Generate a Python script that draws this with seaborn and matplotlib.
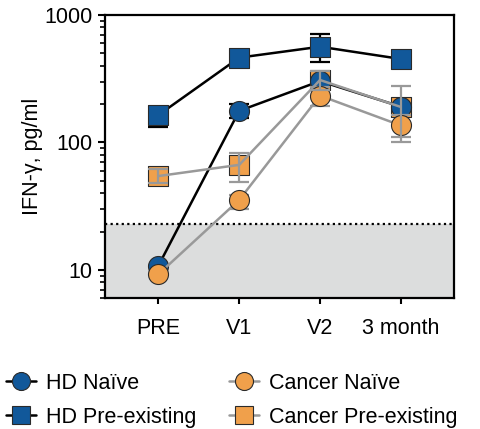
import numpy as np
import pandas as pd
import matplotlib
matplotlib.use("Agg")
import matplotlib.pyplot as plt
from matplotlib.lines import Line2D
import seaborn as sns

# ---- data ----
timepoints = ["PRE", "V1", "V2", "3 month"]

hd_naive = [10.8, 177, 303, 191]
hd_naive_lo = [10.8, 156, 303, 191]
hd_naive_hi = [10.8, 200, 303, 191]

hd_pre = [164, 463, 564, 452]
hd_pre_lo = [132, 463, 426, 452]
hd_pre_hi = [164, 463, 706, 452]

ca_naive = [9.25, 35.4, 233, 136]
ca_naive_lo = [9.25, 30, 194, 110]
ca_naive_hi = [9.25, 39, 270, 165]

ca_pre = [54.5, 66.7, 309, 190]
ca_pre_lo = [48, 49, 260, 101]
ca_pre_hi = [62, 82, 366, 277]

detection_limit = 23
y_ticks = [10, 100, 1000]
y_tick_labels = ["10", "100", "1000"]
y_label = "IFN-\u03b3, pg/ml"
legend_labels = ["HD Na\u00efve", "HD Pre-existing", "Cancer Na\u00efve", "Cancer Pre-existing"]

BLUE = "#11589a"
ORANGE = "#f0a04b"
GRAY = "#999999"
SHADE = "#dcdddd"
EDGE = "#2a2a2a"
FS = 15.5

sns.set_style("ticks")
plt.rcParams["font.family"] = ["Liberation Sans", "DejaVu Sans"]
plt.rcParams["text.color"] = "black"
plt.rcParams["axes.labelcolor"] = "black"
plt.rcParams["xtick.color"] = "black"
plt.rcParams["ytick.color"] = "black"
plt.rcParams["xtick.labelcolor"] = "black"
plt.rcParams["ytick.labelcolor"] = "black"

fig = plt.figure(figsize=(4.8, 4.29), dpi=100)
ax = fig.add_axes([0.219, 0.305, 0.727, 0.66])

x = np.arange(len(timepoints))
MS = 14.4
S = MS ** 2


def frame(vals):
    return pd.DataFrame({"t": x, "v": vals})


# shaded below detection limit
ax.axhspan(1, detection_limit, color=SHADE, zorder=0, lw=0)
ax.axhline(detection_limit, color="black", ls=(0, (1, 1.5)), lw=1.6, zorder=1)

# HD lines (black)
for vals in (hd_naive, hd_pre):
    sns.lineplot(data=frame(vals), x="t", y="v", color="black", lw=1.8,
                 sort=False, ax=ax, zorder=2.0, legend=False)

# HD error bars (behind markers)
for vals, lo, hi in ((hd_naive, hd_naive_lo, hd_naive_hi), (hd_pre, hd_pre_lo, hd_pre_hi)):
    v = np.array(vals); l = np.array(lo); h = np.array(hi)
    ax.errorbar(x, v, yerr=[v - l, h - v], fmt="none", ecolor="black",
                elinewidth=1.6, capsize=7.5, capthick=1.6, zorder=2.05)

# Cancer pre-existing squares
sns.scatterplot(data=frame(ca_pre), x="t", y="v", marker="s", s=S, color=ORANGE,
                edgecolor=EDGE, linewidth=0.8, ax=ax, zorder=2.1, legend=False)
# HD markers
sns.scatterplot(data=frame(hd_pre), x="t", y="v", marker="s", s=S, color=BLUE,
                edgecolor=EDGE, linewidth=0.8, ax=ax, zorder=2.2, legend=False)
sns.scatterplot(data=frame(hd_naive), x="t", y="v", marker="o", s=S, color=BLUE,
                edgecolor=EDGE, linewidth=0.8, ax=ax, zorder=2.3, legend=False)

# Cancer lines (gray)
for vals in (ca_naive, ca_pre):
    sns.lineplot(data=frame(vals), x="t", y="v", color=GRAY, lw=1.8,
                 sort=False, ax=ax, zorder=2.4, legend=False)

# Cancer naive error bars then circles
v = np.array(ca_naive); l = np.array(ca_naive_lo); h = np.array(ca_naive_hi)
ax.errorbar(x, v, yerr=[v - l, h - v], fmt="none", ecolor=GRAY,
            elinewidth=1.6, capsize=7.5, capthick=1.6, zorder=2.45)
sns.scatterplot(data=frame(ca_naive), x="t", y="v", marker="o", s=S, color=ORANGE,
                edgecolor=EDGE, linewidth=0.8, ax=ax, zorder=2.5, legend=False)

# Cancer pre-existing error bars on top
v = np.array(ca_pre); l = np.array(ca_pre_lo); h = np.array(ca_pre_hi)
ax.errorbar(x, v, yerr=[v - l, h - v], fmt="none", ecolor=GRAY,
            elinewidth=1.6, capsize=7.5, capthick=1.6, zorder=2.6)

ax.set_yscale("log")
ax.set_ylim(6, 1000)
ax.set_xlim(-0.66, len(timepoints) - 1 + 0.66)
ax.set_yticks(y_ticks)
ax.set_yticklabels(y_tick_labels)
ax.set_xticks(x)
ax.set_xticklabels(timepoints)
ax.set_xlabel("")
ax.set_ylabel(y_label, fontsize=FS, labelpad=1, color="black")

for sp in ax.spines.values():
    sp.set_linewidth(1.6)
    sp.set_color("black")
    sp.set_visible(True)
ax.tick_params(axis="both", which="major", labelsize=FS, width=1.5, color="black",
               labelcolor="black")
ax.tick_params(axis="y", which="major", length=5, pad=4)
ax.tick_params(axis="y", which="minor", length=3.5, width=1.2, color="black")
ax.tick_params(axis="x", which="major", length=4.5, pad=9.5)
ax.tick_params(axis="x", which="minor", bottom=False)

handles = [
    Line2D([], [], color="black", lw=1.8, marker="o", ms=MS * 0.9, mfc=BLUE, mec=EDGE, mew=0.8),
    Line2D([], [], color="black", lw=1.8, marker="s", ms=MS * 0.9, mfc=BLUE, mec=EDGE, mew=0.8),
    Line2D([], [], color=GRAY, lw=1.8, marker="o", ms=MS * 0.9, mfc=ORANGE, mec=EDGE, mew=0.8),
    Line2D([], [], color=GRAY, lw=1.8, marker="s", ms=MS * 0.9, mfc=ORANGE, mec=EDGE, mew=0.8),
]
fig.legend(handles, legend_labels, loc="upper left", bbox_to_anchor=(0.012, 0.131),
           ncol=2, frameon=False, fontsize=FS, handlelength=1.4, handletextpad=0.47,
           columnspacing=1.5, labelspacing=0.6, borderpad=0, borderaxespad=0,
           labelcolor="black")

fig.savefig("out.png", dpi=100)
